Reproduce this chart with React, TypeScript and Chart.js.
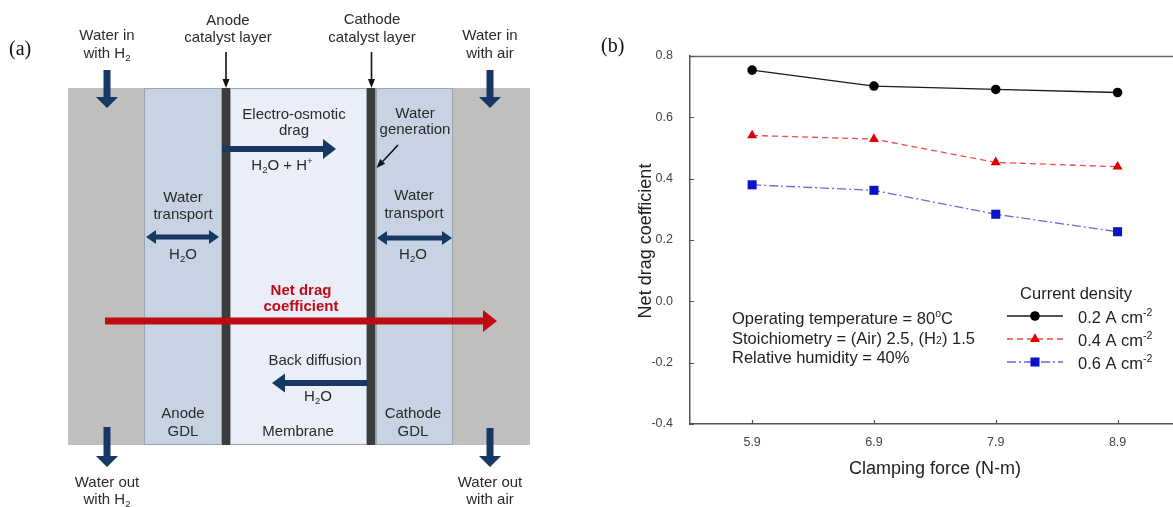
import React, { useEffect, useRef } from 'react';
import { Chart, registerables } from 'chart.js';

Chart.register(...registerables);

// Clamping force (N-m) and measured net drag coefficient per current density
const clampingForce = [5.9, 6.9, 7.9, 8.9];
const netDrag02 = [0.754, 0.702, 0.691, 0.681];
const netDrag04 = [0.541, 0.529, 0.453, 0.439];
const netDrag06 = [0.38, 0.362, 0.284, 0.227];
const yTickValues = [-0.4, -0.2, 0, 0.2, 0.4, 0.6, 0.8];
const densityLabels = ['0.2 A cm', '0.4 A cm', '0.6 A cm'];

const SANS = '"Liberation Sans", Arial, "DejaVu Sans", sans-serif';
const SERIF = '"Liberation Serif", "DejaVu Serif", serif';

type Seg = { t: string; mode?: 'sup' | 'sub' | 'small' };

function drawRich(
  ctx: CanvasRenderingContext2D,
  segs: Seg[],
  x: number,
  y: number,
  size: number,
  align: 'left' | 'center',
  color: string,
  weight = 'normal'
) {
  const fontFor = (s: Seg) => `${weight} ${s.mode ? size * 0.64 : size}px ${SANS}`;
  const widths = segs.map((s) => {
    ctx.font = fontFor(s);
    return ctx.measureText(s.t).width;
  });
  const total = widths.reduce((a, b) => a + b, 0);
  let cx = align === 'center' ? x - total / 2 : x;
  const base = y + size * 0.358;
  ctx.save();
  ctx.fillStyle = color;
  ctx.textAlign = 'left';
  ctx.textBaseline = 'alphabetic';
  segs.forEach((s, i) => {
    ctx.font = fontFor(s);
    let dy = 0;
    if (s.mode === 'sup') dy = -size * 0.42;
    if (s.mode === 'sub') dy = size * 0.2;
    ctx.fillText(s.t, cx, base + dy);
    cx += widths[i];
  });
  ctx.restore();
}

// Filled block arrow pointing down
function arrowDown(ctx: CanvasRenderingContext2D, x: number, y0: number, y1: number, color: string) {
  const sw = 7, hw = 22, hl = 11;
  ctx.fillStyle = color;
  ctx.beginPath();
  ctx.moveTo(x - sw / 2, y0);
  ctx.lineTo(x + sw / 2, y0);
  ctx.lineTo(x + sw / 2, y1 - hl);
  ctx.lineTo(x + hw / 2, y1 - hl);
  ctx.lineTo(x, y1);
  ctx.lineTo(x - hw / 2, y1 - hl);
  ctx.lineTo(x - sw / 2, y1 - hl);
  ctx.closePath();
  ctx.fill();
}

// Horizontal block arrow, tip at x1; optional head at x0 as well
function arrowH(
  ctx: CanvasRenderingContext2D,
  x0: number,
  x1: number,
  y: number,
  sw: number,
  hh: number,
  hl: number,
  color: string,
  both = false
) {
  const dir = x1 > x0 ? 1 : -1;
  ctx.fillStyle = color;
  ctx.beginPath();
  if (both) {
    ctx.moveTo(x0, y);
    ctx.lineTo(x0 + dir * hl, y - hh / 2);
    ctx.lineTo(x0 + dir * hl, y - sw / 2);
  } else {
    ctx.moveTo(x0, y - sw / 2);
  }
  ctx.lineTo(x1 - dir * hl, y - sw / 2);
  ctx.lineTo(x1 - dir * hl, y - hh / 2);
  ctx.lineTo(x1, y);
  ctx.lineTo(x1 - dir * hl, y + hh / 2);
  ctx.lineTo(x1 - dir * hl, y + sw / 2);
  if (both) {
    ctx.lineTo(x0 + dir * hl, y + sw / 2);
    ctx.lineTo(x0 + dir * hl, y + hh / 2);
  } else {
    ctx.lineTo(x0, y + sw / 2);
  }
  ctx.closePath();
  ctx.fill();
}

// Thin pointer arrow
function pointer(ctx: CanvasRenderingContext2D, x0: number, y0: number, x1: number, y1: number) {
  const ang = Math.atan2(y1 - y0, x1 - x0);
  const hl = 9, hw = 3.5;
  const bx = x1 - Math.cos(ang) * hl;
  const by = y1 - Math.sin(ang) * hl;
  ctx.strokeStyle = '#111';
  ctx.lineWidth = 1.6;
  ctx.beginPath();
  ctx.moveTo(x0, y0);
  ctx.lineTo(bx, by);
  ctx.stroke();
  ctx.fillStyle = '#111';
  ctx.beginPath();
  ctx.moveTo(x1, y1);
  ctx.lineTo(bx - Math.sin(ang) * hw, by + Math.cos(ang) * hw);
  ctx.lineTo(bx + Math.sin(ang) * hw, by - Math.cos(ang) * hw);
  ctx.closePath();
  ctx.fill();
}

// Schematic of water transport through the fuel cell layers
function drawCellSchematic(ctx: CanvasRenderingContext2D) {
  const top = 88, bottom = 445;
  const navy = '#173864';
  const red = '#c00a14';
  const ink = '#2a2a2a';
  const fs = 15;

  ctx.save();
  ctx.fillStyle = '#c0bfbe';
  ctx.fillRect(68, top, 76, bottom - top);
  ctx.fillRect(453, top, 77, bottom - top);
  ctx.fillStyle = '#c7d2e2';
  ctx.fillRect(144, top, 78, bottom - top);
  ctx.fillRect(376, top, 77, bottom - top);
  ctx.fillStyle = '#e9eef8';
  ctx.fillRect(230, top, 137, bottom - top);
  ctx.strokeStyle = '#9aa4b0';
  ctx.lineWidth = 1;
  ctx.strokeRect(144.5, top + 0.5, 77, bottom - top - 1);
  ctx.strokeRect(376.5, top + 0.5, 76, bottom - top - 1);
  ctx.strokeRect(230.5, top + 0.5, 136, bottom - top - 1);
  ctx.fillStyle = '#3c3c3c';
  ctx.fillRect(222, top, 8, bottom - top);
  ctx.fillRect(367, top, 8.5, bottom - top);

  // panel label
  ctx.fillStyle = '#111';
  ctx.font = `20px ${SERIF}`;
  ctx.textBaseline = 'middle';
  ctx.textAlign = 'left';
  ctx.fillText('(a)', 9, 50);

  drawRich(ctx, [{ t: 'Water in' }], 107, 35, fs, 'center', ink);
  drawRich(ctx, [{ t: 'with H' }, { t: '2', mode: 'sub' }], 107, 53, fs, 'center', ink);
  drawRich(ctx, [{ t: 'Anode' }], 228, 20, fs, 'center', ink);
  drawRich(ctx, [{ t: 'catalyst layer' }], 228, 37, fs, 'center', ink);
  drawRich(ctx, [{ t: 'Cathode' }], 372, 19, fs, 'center', ink);
  drawRich(ctx, [{ t: 'catalyst layer' }], 372, 37, fs, 'center', ink);
  drawRich(ctx, [{ t: 'Water in' }], 490, 35, fs, 'center', ink);
  drawRich(ctx, [{ t: 'with air' }], 490, 53, fs, 'center', ink);

  arrowDown(ctx, 107, 70, 108, navy);
  arrowDown(ctx, 490, 70, 108, navy);
  pointer(ctx, 226, 52, 226, 88);
  pointer(ctx, 371.5, 52, 371.5, 88);

  // membrane transport
  drawRich(ctx, [{ t: 'Electro-osmotic' }], 294, 114, fs, 'center', ink);
  drawRich(ctx, [{ t: 'drag' }], 294, 130, fs, 'center', ink);
  arrowH(ctx, 222, 336, 149, 6, 20, 13, navy);
  drawRich(ctx, [{ t: 'H' }, { t: '2', mode: 'sub' }, { t: 'O + H' }, { t: '+', mode: 'sup' }], 282, 165, fs, 'center', ink);

  drawRich(ctx, [{ t: 'Water' }], 415, 113, fs, 'center', ink);
  drawRich(ctx, [{ t: 'generation' }], 415, 129, fs, 'center', ink);
  pointer(ctx, 398, 145, 376.5, 168);

  drawRich(ctx, [{ t: 'Water' }], 183, 197, fs, 'center', ink);
  drawRich(ctx, [{ t: 'transport' }], 183, 214, fs, 'center', ink);
  drawRich(ctx, [{ t: 'Water' }], 414, 195, fs, 'center', ink);
  drawRich(ctx, [{ t: 'transport' }], 414, 213, fs, 'center', ink);
  arrowH(ctx, 146, 219, 237, 5, 14, 10, navy, true);
  arrowH(ctx, 377, 452, 238, 5, 14, 10, navy, true);
  drawRich(ctx, [{ t: 'H' }, { t: '2', mode: 'sub' }, { t: 'O' }], 183, 254, fs, 'center', ink);
  drawRich(ctx, [{ t: 'H' }, { t: '2', mode: 'sub' }, { t: 'O' }], 413, 254, fs, 'center', ink);

  drawRich(ctx, [{ t: 'Net drag' }], 301, 290, fs, 'center', red, 'bold');
  drawRich(ctx, [{ t: 'coefficient' }], 301, 306, fs, 'center', red, 'bold');

  drawRich(ctx, [{ t: 'Back diffusion' }], 315, 360, fs, 'center', ink);
  arrowH(ctx, 367, 272, 383, 6, 19, 13, navy);
  drawRich(ctx, [{ t: 'H' }, { t: '2', mode: 'sub' }, { t: 'O' }], 318, 396, fs, 'center', ink);

  drawRich(ctx, [{ t: 'Anode' }], 183, 413, fs, 'center', ink);
  drawRich(ctx, [{ t: 'GDL' }], 183, 431, fs, 'center', ink);
  drawRich(ctx, [{ t: 'Membrane' }], 298, 431, fs, 'center', ink);
  drawRich(ctx, [{ t: 'Cathode' }], 413, 413, fs, 'center', ink);
  drawRich(ctx, [{ t: 'GDL' }], 413, 431, fs, 'center', ink);

  // net flux across the whole cell
  arrowH(ctx, 105, 497, 321, 7, 22, 14, red);

  arrowDown(ctx, 107, 427, 467, navy);
  arrowDown(ctx, 490, 428, 467, navy);
  drawRich(ctx, [{ t: 'Water out' }], 107, 482, fs, 'center', ink);
  drawRich(ctx, [{ t: 'with H' }, { t: '2', mode: 'sub' }], 107, 499, fs, 'center', ink);
  drawRich(ctx, [{ t: 'Water out' }], 490, 482, fs, 'center', ink);
  drawRich(ctx, [{ t: 'with air' }], 490, 499, fs, 'center', ink);
  ctx.restore();
}

function drawMarker(ctx: CanvasRenderingContext2D, style: string, x: number, y: number, r: number, color: string) {
  ctx.fillStyle = color;
  ctx.beginPath();
  if (style === 'circle') {
    ctx.arc(x, y, r, 0, Math.PI * 2);
  } else if (style === 'triangle') {
    ctx.moveTo(x, y - r);
    ctx.lineTo(x + r * 0.866, y + r * 0.5);
    ctx.lineTo(x - r * 0.866, y + r * 0.5);
    ctx.closePath();
  } else {
    const h = r * Math.SQRT1_2;
    ctx.rect(x - h, y - h, 2 * h, 2 * h);
  }
  ctx.fill();
}

const seriesStyles = [
  { line: '#1a1a1a', marker: '#000000', dash: [] as number[], point: 'circle', radius: 4.8, data: netDrag02 },
  { line: '#ef4a4a', marker: '#e00000', dash: [6, 4], point: 'triangle', radius: 5.8, data: netDrag04 },
  { line: '#6a6ad8', marker: '#0a14c4', dash: [9, 3, 2, 3], point: 'rect', radius: 6.4, data: netDrag06 },
];

const figurePlugin = {
  id: 'figureDecor',
  beforeDraw(chart: Chart) {
    const ctx = chart.ctx;
    ctx.save();
    ctx.fillStyle = '#ffffff';
    ctx.fillRect(0, 0, chart.width, chart.height);
    ctx.restore();
    drawCellSchematic(ctx);
  },
  afterDraw(chart: Chart) {
    const ctx = chart.ctx;
    const { left, right, top, bottom } = chart.chartArea;
    const xs = chart.scales.x;
    const ys = chart.scales.y;
    ctx.save();

    // top frame line
    ctx.strokeStyle = '#666';
    ctx.lineWidth = 1.3;
    ctx.beginPath();
    ctx.moveTo(left, top + 0.5);
    ctx.lineTo(right, top + 0.5);
    ctx.stroke();

    // inward tick marks
    ctx.strokeStyle = '#555';
    ctx.lineWidth = 1.2;
    ctx.beginPath();
    clampingForce.forEach((v) => {
      const px = Math.round(xs.getPixelForValue(v)) + 0.5;
      ctx.moveTo(px, bottom);
      ctx.lineTo(px, bottom - 4);
    });
    yTickValues.forEach((v) => {
      const py = Math.round(ys.getPixelForValue(v)) + 0.5;
      ctx.moveTo(left, py);
      ctx.lineTo(left + 4, py);
    });
    ctx.stroke();

    // panel label and axis titles
    ctx.fillStyle = '#111';
    ctx.font = `20px ${SERIF}`;
    ctx.textBaseline = 'middle';
    ctx.textAlign = 'left';
    ctx.fillText('(b)', 601, 47);

    ctx.fillStyle = '#222';
    ctx.font = `18px ${SANS}`;
    ctx.textAlign = 'center';
    ctx.fillText('Clamping force (N-m)', 935, 469);
    ctx.save();
    ctx.translate(646, 241);
    ctx.rotate(-Math.PI / 2);
    ctx.fillText('Net drag coefficient', 0, 0);
    ctx.restore();

    // operating conditions
    const fs = 16.5;
    const ink = '#222';
    drawRich(ctx, [{ t: 'Operating temperature = 80' }, { t: 'o', mode: 'sup' }, { t: 'C' }], 732, 318, fs, 'left', ink);
    drawRich(ctx, [{ t: 'Stoichiometry = (Air) 2.5, (H' }, { t: '2', mode: 'small' }, { t: ') 1.5' }], 732, 338, fs, 'left', ink);
    drawRich(ctx, [{ t: 'Relative humidity = 40%' }], 732, 357, fs, 'left', ink);

    // legend
    drawRich(ctx, [{ t: 'Current density' }], 1076, 293, fs, 'center', ink);
    const rows = [316, 339, 362];
    seriesStyles.forEach((s, i) => {
      const y = rows[i];
      ctx.strokeStyle = s.line;
      ctx.lineWidth = 1.3;
      ctx.setLineDash(s.dash);
      ctx.beginPath();
      ctx.moveTo(1007, y);
      ctx.lineTo(1063, y);
      ctx.stroke();
      ctx.setLineDash([]);
      drawMarker(ctx, s.point, 1035, y, s.radius, s.marker);
      drawRich(ctx, [{ t: densityLabels[i] }, { t: '-2', mode: 'sup' }], 1078, y + 1, fs, 'left', ink);
    });
    ctx.restore();
  },
};

export default function App() {
  const canvasRef = useRef<HTMLCanvasElement | null>(null);

  useEffect(() => {
    const canvas = canvasRef.current;
    if (!canvas) return;
    const chart = new Chart(canvas, {
      type: 'line',
      data: {
        datasets: seriesStyles.map((s, i) => ({
          label: densityLabels[i],
          data: clampingForce.map((x, j) => ({ x, y: s.data[j] })),
          borderColor: s.line,
          borderWidth: 1.3,
          borderDash: s.dash,
          pointStyle: s.point as any,
          pointRadius: s.radius,
          pointBackgroundColor: s.marker,
          pointBorderColor: s.marker,
          pointBorderWidth: 0,
          tension: 0,
          fill: false,
        })),
      },
      options: {
        responsive: false,
        animation: false,
        devicePixelRatio: 1,
        events: [],
        layout: { autoPadding: false, padding: { left: 600, top: 56, right: 0, bottom: 0 } },
        plugins: { legend: { display: false }, tooltip: { enabled: false } },
        scales: {
          x: {
            type: 'linear',
            min: 5.39,
            max: 9.355,
            afterBuildTicks: (scale: any) => {
              scale.ticks = clampingForce.map((v) => ({ value: v }));
            },
            afterFit: (scale: any) => {
              scale.height = 83;
              scale.paddingLeft = 0;
              scale.paddingRight = 0;
            },
            grid: { display: false },
            border: { display: true, color: '#555', width: 1.5 },
            ticks: {
              padding: 3,
              color: '#444',
              font: { family: SANS, size: 12.5 },
              maxRotation: 0,
              callback: (v: any) => Number(v).toFixed(1),
            },
          },
          y: {
            type: 'linear',
            min: -0.4,
            max: 0.8,
            afterBuildTicks: (scale: any) => {
              scale.ticks = yTickValues.map((v) => ({ value: v }));
            },
            afterFit: (scale: any) => {
              scale.width = 90;
              scale.paddingTop = 0;
              scale.paddingBottom = 0;
            },
            grid: { display: false },
            border: { display: true, color: '#555', width: 1.5 },
            ticks: {
              padding: 9,
              color: '#444',
              font: { family: SANS, size: 12.5 },
              callback: (v: any) => Number(v).toFixed(1),
            },
          },
        },
      },
      plugins: [figurePlugin],
    });
    return () => chart.destroy();
  }, []);

  return (
    <div style={{ position: 'fixed', left: 0, top: 0, width: 1173, height: 507, background: '#fff' }}>
      <canvas ref={canvasRef} width={1173} height={507} style={{ display: 'block', width: 1173, height: 507 }} />
    </div>
  );
}
